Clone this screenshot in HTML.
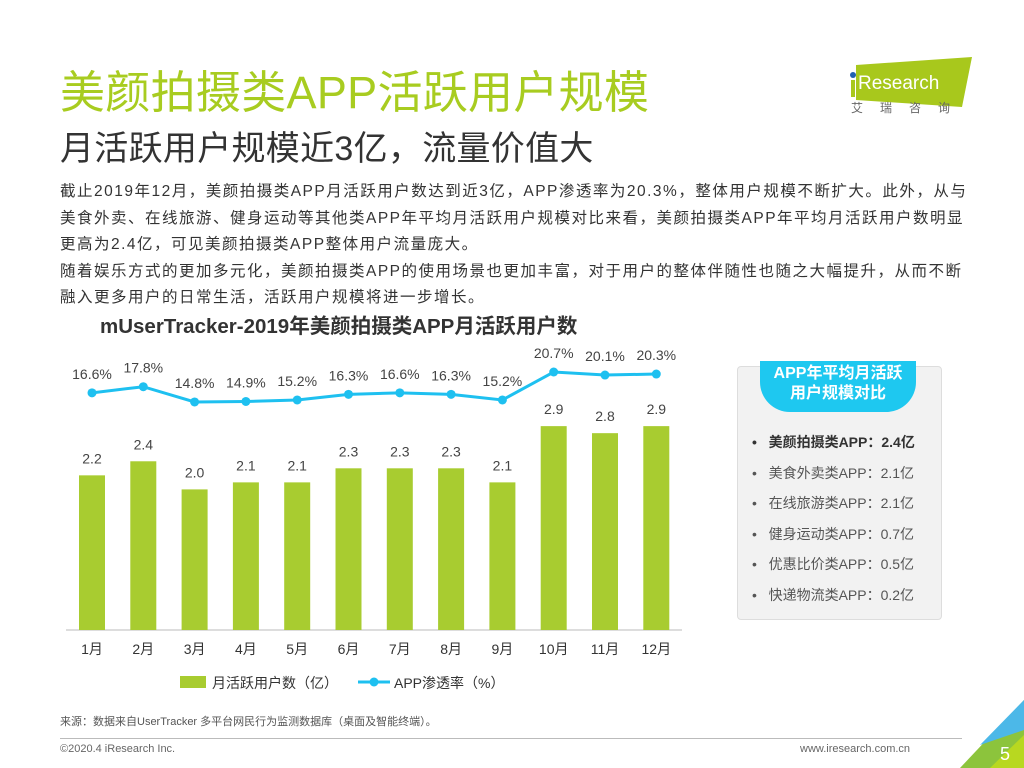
<!DOCTYPE html>
<html><head><meta charset="utf-8"><style>
body{margin:0;width:1024px;height:768px;overflow:hidden;background:#fff;font-family:"Liberation Sans","Noto Sans CJK SC",sans-serif;position:relative}
.abs{position:absolute}
</style></head><body>
<div class="abs" style="left:60px;top:56px;font-size:45px;color:#a8cc20;letter-spacing:0.3px;white-space:nowrap">美颜拍摄类APP活跃用户规模</div>
<div class="abs" style="left:60px;top:121px;font-size:34px;color:#333;white-space:nowrap;letter-spacing:0.3px">月活跃用户规模近3亿，流量价值大</div>
<div class="abs" style="left:848px;top:55px;width:125px;height:60px">
<svg width="125" height="60"><polygon points="8,10 124,2 114,52 8,45" fill="#a8c81c"/><circle cx="5" cy="20" r="3" fill="#2060b0"/><rect x="3" y="25" width="4" height="17" fill="#a8c81c"/><text x="10" y="34" font-size="19" fill="#fff" font-family="Liberation Sans">Research</text></svg>
<div class="abs" style="left:3px;top:44px;font-size:12px;color:#666;letter-spacing:17px;white-space:nowrap">艾瑞咨询</div></div>
<div class="abs" style="left:60px;top:179px;font-size:15.5px;line-height:26.5px;color:#333;white-space:nowrap;letter-spacing:1.5px">截止2019年12月，美颜拍摄类APP月活跃用户数达到近3亿，APP渗透率为20.3%，整体用户规模不断扩大。此外，从与<br>美食外卖、在线旅游、健身运动等其他类APP年平均月活跃用户规模对比来看，美颜拍摄类APP年平均月活跃用户数明显<br>更高为2.4亿，可见美颜拍摄类APP整体用户流量庞大。<br>随着娱乐方式的更加多元化，美颜拍摄类APP的使用场景也更加丰富，对于用户的整体伴随性也随之大幅提升，从而不断<br>融入更多用户的日常生活，活跃用户规模将进一步增长。</div>
<div class="abs" style="left:100px;top:309px;font-size:20.5px;font-weight:bold;color:#333;white-space:nowrap">mUserTracker-2019年美颜拍摄类APP月活跃用户数</div>
<svg class="abs" id="chart" style="left:0;top:330px" width="720" height="370"></svg>
<div class="abs" style="left:737px;top:366px;width:203px;height:252px;background:#f2f2f2;border:1px solid #ddd;border-radius:4px">
<div class="abs" style="left:22px;top:-6px;width:156px;height:48px;background:#1ec8f0;border-radius:0 0 30px 30px;color:#fff;font-weight:bold;font-size:16px;text-align:center;line-height:20px;padding-top:3px">APP年平均月活跃<br>用户规模对比</div>
<div class="abs" style="left:14px;top:60px;font-size:14px;color:#555;line-height:30.5px;white-space:nowrap">
<div style="font-weight:bold;color:#333">•&nbsp;&nbsp;&nbsp;美颜拍摄类APP：2.4亿</div>
<div>•&nbsp;&nbsp;&nbsp;美食外卖类APP：2.1亿</div>
<div>•&nbsp;&nbsp;&nbsp;在线旅游类APP：2.1亿</div>
<div>•&nbsp;&nbsp;&nbsp;健身运动类APP：0.7亿</div>
<div>•&nbsp;&nbsp;&nbsp;优惠比价类APP：0.5亿</div>
<div>•&nbsp;&nbsp;&nbsp;快递物流类APP：0.2亿</div></div></div>
<div class="abs" style="left:60px;top:713px;font-size:11px;color:#555">来源：数据来自UserTracker 多平台网民行为监测数据库（桌面及智能终端）。</div>
<div class="abs" style="left:60px;top:738px;width:902px;height:1px;background:#bbb"></div>
<div class="abs" style="left:60px;top:743px;font-size:11px;color:#666">©2020.4 iResearch Inc.</div>
<div class="abs" style="left:800px;top:743px;font-size:11px;color:#666">www.iresearch.com.cn</div>
<svg class="abs" style="left:960px;top:700px" width="64" height="68"><polygon points="0,68 64,0 64,68" fill="#8cc43c"/><polygon points="20,45 64,0 64,30" fill="#4cb8e8"/><polygon points="30,68 64,35 64,68" fill="#b8d820"/><text x="40" y="60" font-size="18" fill="#fff" font-family="Liberation Sans">5</text></svg>
<script>
const months=["1月","2月","3月","4月","5月","6月","7月","8月","9月","10月","11月","12月"];
const users=[2.2,2.4,2.0,2.1,2.1,2.3,2.3,2.3,2.1,2.9,2.8,2.9];
const rate=[16.6,17.8,14.8,14.9,15.2,16.3,16.6,16.3,15.2,20.7,20.1,20.3];
const svg=document.getElementById('chart');const NS='http://www.w3.org/2000/svg';
const oy=330;
const x=i=>92+i*51.3;
const yb=v=>630-oy-v*70.3;
const yl=v=>372-oy+(20.7-v)*5.08;
function mk(t,a,txt){const e=document.createElementNS(NS,t);for(const k in a)e.setAttribute(k,a[k]);if(txt!=null)e.textContent=txt;svg.appendChild(e);return e;}
const ax=mk('line',{x1:66,x2:682,y1:300,y2:300,stroke:'#bbb'});

users.forEach((v,i)=>{
const r=mk('rect',{x:x(i)-13,y:yb(v),width:26,height:300-yb(v),fill:'#a8cc30'});

const t=mk('text',{x:x(i),y:yb(v)-12,'text-anchor':'middle','font-size':14,fill:'#444'},v.toFixed(1));

const m=mk('text',{x:x(i),y:324,'text-anchor':'middle','font-size':14,fill:'#333'},months[i]);

});
const p=mk('polyline',{points:rate.map((v,i)=>x(i)+','+yl(v)).join(' '),fill:'none',stroke:'#1ec0f0','stroke-width':3});

rate.forEach((v,i)=>{
const c=mk('circle',{cx:x(i),cy:yl(v),r:4.5,fill:'#1ec0f0'});

const t=mk('text',{x:x(i),y:yl(v)-14,'text-anchor':'middle','font-size':14,fill:'#444'},v.toFixed(1)+'%');

});
const l1=mk('rect',{x:180,y:346,width:26,height:12,fill:'#a8cc30'});

const l2=mk('text',{x:212,y:358,'font-size':14,fill:'#333'},'月活跃用户数（亿）');

const l3=mk('line',{x1:358,x2:390,y1:352,y2:352,stroke:'#1ec0f0','stroke-width':3});

const l4=mk('circle',{cx:374,cy:352,r:4.5,fill:'#1ec0f0'});

const l5=mk('text',{x:394,y:358,'font-size':14,fill:'#333'},'APP渗透率（%）');

</script>
</body></html>
